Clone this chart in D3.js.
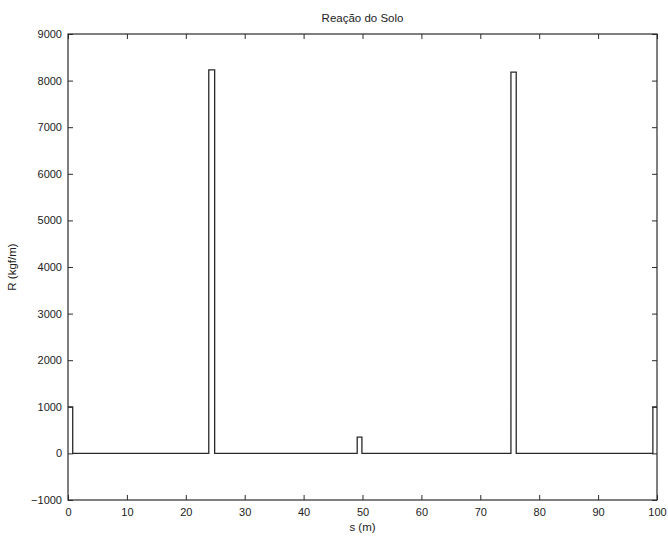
<!DOCTYPE html>
<html><head><meta charset="utf-8">
<script src="https://cdn.jsdelivr.net/npm/d3@7"></script>
<style>body{margin:0;background:#fff}svg{display:block}text{font-family:"Liberation Sans",Arial,sans-serif;fill:#222}</style>
</head><body>
<script>
const sValues = [0, 0.8, 0.8, 23.9, 23.9, 24.9, 24.9, 49.1, 49.1, 49.9, 49.9, 75.2, 75.2, 76.1, 76.1, 99.3, 99.3, 100];
const rValues = [1000, 1000, 0, 0, 8230, 8230, 0, 0, 350, 350, 0, 0, 8180, 8180, 0, 0, 1000, 1000];
const xTicks = [0,10,20,30,40,50,60,70,80,90,100];
const yTicks = [-1000,0,1000,2000,3000,4000,5000,6000,7000,8000,9000];
const titleText = "Reação do Solo";
const xLabel = "s (m)";
const yLabel = "R (kgf/m)";

const W = 668, H = 537;
const m = {left:68, right:11, top:34, bottom:37};
const svg = d3.select("body").append("svg").attr("width",W).attr("height",H);
const x = d3.scaleLinear().domain([0,100]).range([m.left, W-m.right]);
const y = d3.scaleLinear().domain([-1000,9000]).range([H-m.bottom, m.top]);
const color = "#2a2a2a";

const g = svg.append("g");
// box
g.append("rect").attr("x",x(0)).attr("y",y(9000)).attr("width",x(100)-x(0)).attr("height",y(-1000)-y(9000))
 .attr("fill","none").attr("stroke",color).attr("stroke-width",1.2);

const tl = 5;
const fmt = d => d < 0 ? "\u2212" + Math.abs(d) : String(d);
// x ticks bottom & top (inward)
g.append("g").attr("transform",`translate(0,${y(-1000)})`)
 .call(d3.axisBottom(x).tickValues(xTicks).tickSizeInner(-tl).tickSizeOuter(0).tickPadding(8).tickFormat(fmt))
 .call(a=>{a.select(".domain").remove();a.selectAll("line").attr("stroke",color);a.selectAll("text").attr("font-size",11).attr("fill","#222");});
g.append("g").attr("transform",`translate(0,${y(9000)})`)
 .call(d3.axisTop(x).tickValues(xTicks).tickSizeInner(-tl).tickSizeOuter(0).tickFormat(""))
 .call(a=>{a.select(".domain").remove();a.selectAll("line").attr("stroke",color);});
// y ticks left & right
g.append("g").attr("transform",`translate(${x(0)},0)`)
 .call(d3.axisLeft(y).tickValues(yTicks).tickSizeInner(-tl).tickSizeOuter(0).tickPadding(6).tickFormat(fmt))
 .call(a=>{a.select(".domain").remove();a.selectAll("line").attr("stroke",color);a.selectAll("text").attr("font-size",11).attr("fill","#222");});
g.append("g").attr("transform",`translate(${x(100)},0)`)
 .call(d3.axisRight(y).tickValues(yTicks).tickSizeInner(-tl).tickSizeOuter(0).tickFormat(""))
 .call(a=>{a.select(".domain").remove();a.selectAll("line").attr("stroke",color);});

// data line
const pts = sValues.map((s,i)=>[s,rValues[i]]);
g.append("path").datum(pts)
 .attr("d", d3.line().x(d=>x(d[0])).y(d=>y(d[1])))
 .attr("fill","none").attr("stroke",color).attr("stroke-width",1.3);

// labels
svg.append("text").attr("x",(x(0)+x(100))/2).attr("y",22).attr("text-anchor","middle").attr("font-size",11.5).text(titleText);
svg.append("text").attr("x",(x(0)+x(100))/2).attr("y",531).attr("text-anchor","middle").attr("font-size",11.5).text(xLabel);
svg.append("text").attr("transform",`translate(16,${(y(-1000)+y(9000))/2}) rotate(-90)`).attr("text-anchor","middle").attr("font-size",11.5).text(yLabel);
</script>
</body></html>
